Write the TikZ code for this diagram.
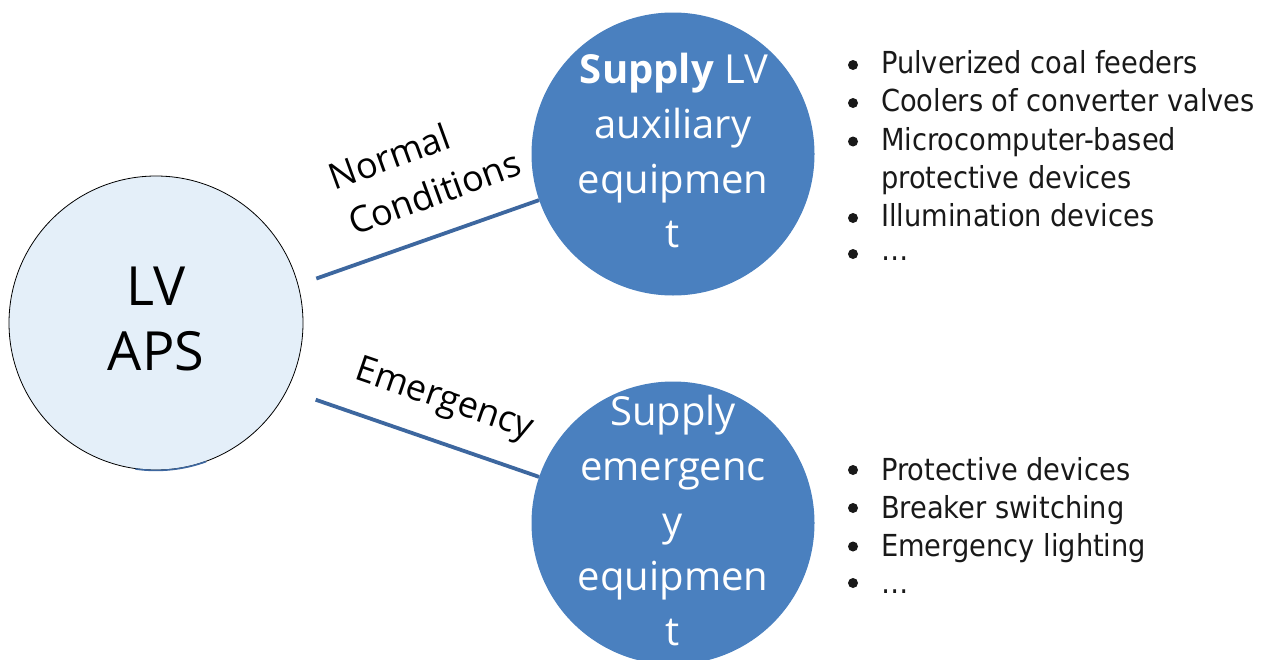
\documentclass[tikz,border=0pt]{standalone}
\usepackage{fontspec}
\setmainfont{Open Sans}
\newfontfamily\listfont{DejaVu Sans Condensed}
\definecolor{bubble}{HTML}{4A80BF}
\definecolor{hub}{HTML}{E4EFF9}
\definecolor{wire}{HTML}{3D679F}
\tikzset{
  hubcircle/.style={circle, draw=black, line width=0.8pt, fill=hub, minimum size=294pt, inner sep=0pt},
  bubblecircle/.style={circle, fill=bubble, minimum size=283pt, inner sep=0pt},
  hubtext/.style={anchor=base, inner sep=0pt, font=\fontsize{54}{65}\selectfont, text=black},
  bubbletext/.style={anchor=base, inner sep=0pt, font=\fontsize{40}{55}\selectfont, text=white},
  edgetext/.style={anchor=base, inner sep=0pt, font=\fontsize{36}{44}\selectfont, text=black},
  itemtext/.style={anchor=base west, inner sep=0pt, font=\listfont\fontsize{30.3}{38}\selectfont, text=black!90},
  dot/.style={circle, fill=black!90, minimum size=10pt, inner sep=0pt},
  link/.style={draw=wire, line width=3.8pt}
}
\begin{document}
\begin{tikzpicture}[x=1pt, y=-1pt]
\useasboundingbox (0,0) rectangle (1266,659);
\clip (0,0) rectangle (1266,659);

% hub and the two supply circles
\node[hubcircle] (aps) at (156,323) {};
\draw[wire, line width=1.6pt] (aps.262) arc[start angle=262, end angle=290, radius=147pt];
\node[bubblecircle] (sup) at (673,154) {};
\node[bubblecircle] (ems) at (673,523) {};

% connectors
\draw[link, shorten <=19pt] (aps.15) -- (sup.199);
\draw[link, shorten <=30pt] (aps.-27) -- (ems.161);

% hub label
\node[hubtext] (aps1) at (156,305) {LV};
\node[hubtext] (aps2) at (156,370) {APS};

% normal supply circle
\node[bubbletext] (sup1) at (674,83) {\textbf{Supply} LV};
\node[bubbletext] (sup2) at (673,138) {auxiliary};
\node[bubbletext] (sup3) at (673,193) {equipmen};
\node[bubbletext] (sup4) at (673,247) {t};

% emergency supply circle
\node[bubbletext] (ems1) at (673,425) {Supply};
\node[bubbletext] (ems2) at (673,480) {emergenc};
\node[bubbletext] (ems3) at (673,535) {y};
\node[bubbletext] (ems4) at (673,590) {equipmen};
\node[bubbletext] (ems5) at (673,645) {t};

% connector labels
\node[edgetext, rotate=20] (nc1) at (394,169) {Normal};
\node[edgetext, rotate=20] (nc2) at (439,205) {Conditions};
\node[edgetext, rotate=-19] (em1) at (441,409) {Emergency};

% loads on normal supply
\node[dot] (nb1) at (853,65) {};
\node[itemtext] (ni1) at (881,73) {Pulverized coal feeders};
\node[dot] (nb2) at (853,103) {};
\node[itemtext] (ni2) at (881,111) {Coolers of converter valves};
\node[dot] (nb3) at (853,141.5) {};
\node[itemtext] (ni3) at (881,150) {Microcomputer-based};
\node[itemtext] (ni4) at (881,188) {protective devices};
\node[dot] (nb5) at (853,218) {};
\node[itemtext] (ni5) at (881,226) {Illumination devices};
\node[dot] (nb6) at (853,254) {};
\node[itemtext] (ni6) at (881,260) {…};

% loads on emergency supply
\node[dot] (eb1) at (853,470) {};
\node[itemtext] (ei1) at (881,480) {Protective devices};
\node[dot] (eb2) at (853,508) {};
\node[itemtext] (ei2) at (881,518) {Breaker switching};
\node[dot] (eb3) at (853,546.5) {};
\node[itemtext] (ei3) at (881,556) {Emergency lighting};
\node[dot] (eb4) at (853,583) {};
\node[itemtext] (ei4) at (881,593) {…};
\end{tikzpicture}
\end{document}
